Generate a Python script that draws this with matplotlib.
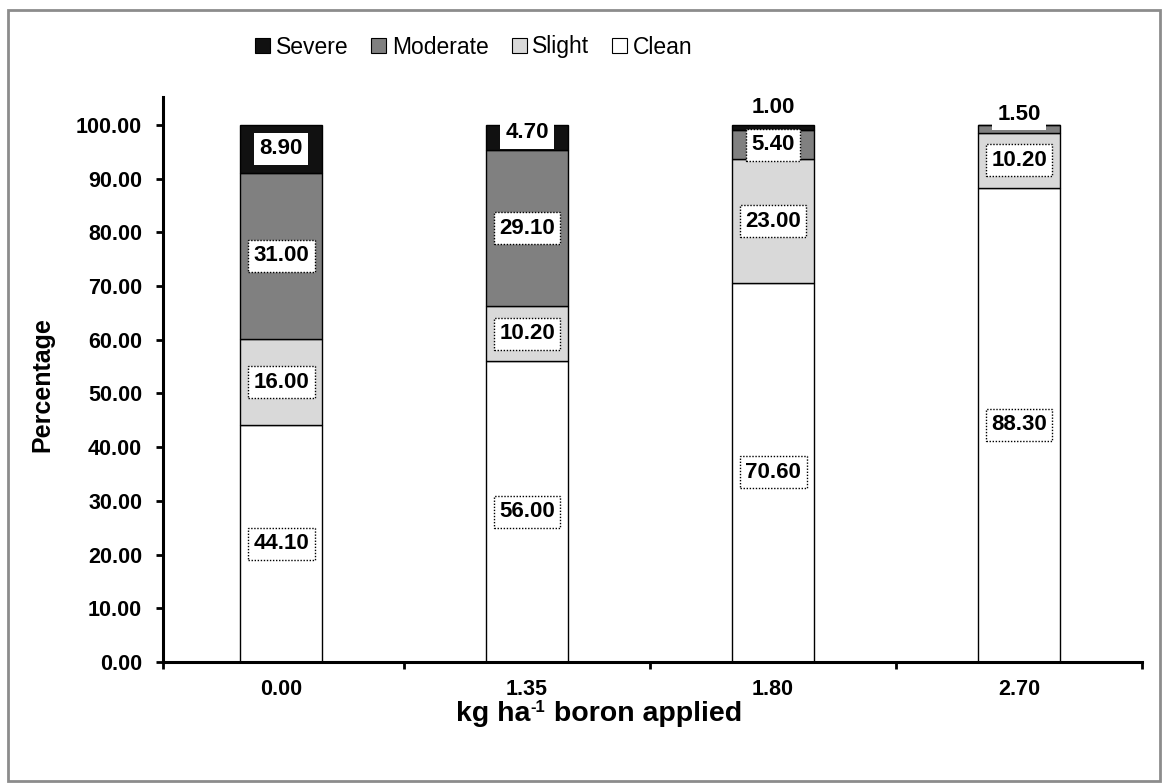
import matplotlib
matplotlib.use("Agg")
import matplotlib.pyplot as plt
from matplotlib.patches import Rectangle, Patch

plt.rcParams['font.family'] = ['Liberation Sans', 'DejaVu Sans']

# data
rates = ["0.00", "1.35", "1.80", "2.70"]
clean = [44.1, 56.0, 70.6, 88.3]
slight = [16.0, 10.2, 23.0, 10.2]
moderate = [31.0, 29.1, 5.4, 1.5]
severe = [8.9, 4.7, 1.0, 0.0]

series = [("Clean", clean, "white"), ("Slight", slight, "#d9d9d9"),
          ("Moderate", moderate, "#808080"), ("Severe", severe, "#111111")]

fig = plt.figure(figsize=(11.62, 7.83), dpi=100)
ax = fig.add_axes([163/1162, 1-662/783, (1142-163)/1162, (662-97)/783])

x = list(range(len(rates)))
bottom = [0.0]*len(rates)
seg_centers = {}
for name, vals, col in series:
    ax.bar(x, vals, width=0.33, bottom=bottom, color=col, edgecolor="black", linewidth=1.0, zorder=2)
    seg_centers[name] = [b + v/2 for b, v in zip(bottom, vals)]
    bottom = [b + v for b, v in zip(bottom, vals)]

dotted = dict(boxstyle="square,pad=0.25", fc="white", ec="black", ls=(0, (1, 1.2)), lw=1.0)
plain = dict(boxstyle="square,pad=0.25", fc="white", ec="none")
lab_kw = dict(ha="center", va="center", fontsize=16, fontweight="bold", zorder=5)

for name in ["Clean", "Slight", "Moderate"]:
    vals = dict((n, v) for n, v, c in series)[name]
    for i, v in enumerate(vals):
        if name == "Moderate" and i == 3:
            ax.text(i, 102.0, f"{v:.2f}", bbox=plain, **lab_kw)
        else:
            ax.text(i, seg_centers[name][i], f"{v:.2f}", bbox=dotted, **lab_kw)

sev_y = [seg_centers["Severe"][0], 98.5, 103.2]
for i, yy in enumerate(sev_y):
    ax.text(i, yy, f"{severe[i]:.2f}", bbox=plain, **lab_kw)

ax.set_ylim(0, 105.2)
ax.set_yticks(range(0, 101, 10))
ax.set_yticklabels([f"{v:.2f}" for v in range(0, 101, 10)], fontsize=15.5, fontweight="bold")
ax.set_xlim(-0.48, 3.5)
ax.set_xticks([-0.48, 0.5, 1.5, 2.5, 3.5])
ax.set_xticklabels([])
ax.set_xticks(x, minor=True)
ax.set_xticklabels(rates, minor=True, fontsize=15.5, fontweight="bold")
ax.tick_params(axis="x", which="major", direction="out", length=5, width=2)
ax.tick_params(axis="x", which="minor", length=0, pad=12)
ax.tick_params(axis="y", direction="out", length=5, width=2, pad=10)

for s in ["top", "right"]:
    ax.spines[s].set_visible(False)
for s in ["left", "bottom"]:
    ax.spines[s].set_linewidth(2.2)

fig.text(42/1162, 1-385/783, "Percentage", rotation=90, ha="center", va="center",
         fontsize=18, fontweight="bold")

# x title built from pieces so the superscript stays small
r = fig.canvas.get_renderer()
parts = [("kg ha", 20.5, 0), ("-1", 12, 9), (" boron applied", 20.5, 0)]
widths = []
for txt, fs, dy in parts:
    t = fig.text(0, 0, txt, fontsize=fs, fontweight="bold")
    widths.append(t.get_window_extent(r).width)
    t.remove()
xpos = 599 - sum(widths)/2
for (txt, fs, dy), w in zip(parts, widths):
    fig.text(xpos/1162, (783-721+dy)/783, txt, fontsize=fs, fontweight="bold", ha="left", va="baseline")
    xpos += w

handles = [Patch(fc=c, ec="black", lw=0.8, label=n) for n, v, c in series[::-1]]
fig.legend(handles=handles, loc="center", bbox_to_anchor=(474/1162, 1-47/783), ncol=4,
           frameon=False, fontsize=16.5, handlelength=0.65, handleheight=0.65,
           handletextpad=0.25, columnspacing=1.0)

fig.patches.append(Rectangle((8/1162, 2/783), 1152/1162, 771/783, transform=fig.transFigure,
                             fill=False, ec="#8c8c8c", lw=2))

fig.savefig("out.png", dpi=100)
